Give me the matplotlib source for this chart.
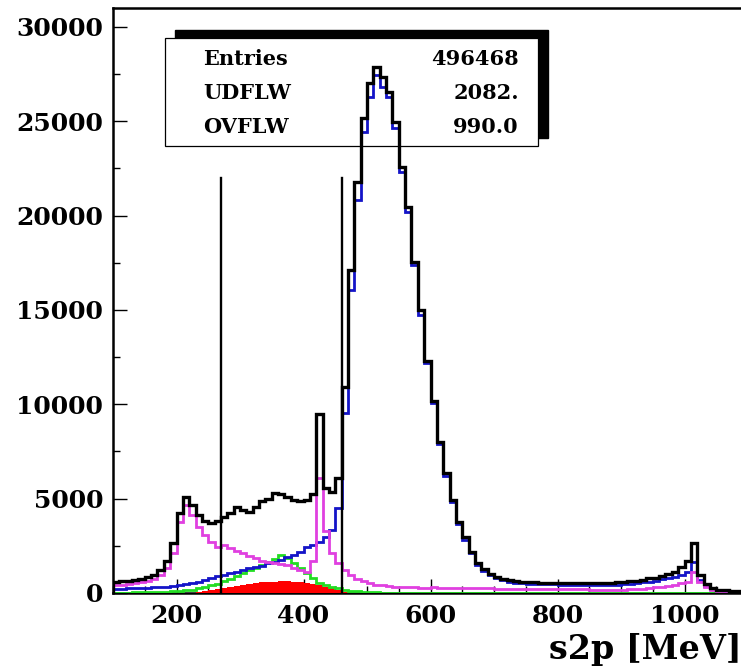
import numpy as np
import matplotlib
matplotlib.use("Agg")
import matplotlib.pyplot as plt
import matplotlib.ticker as mticker
from matplotlib.patches import Rectangle

# --- Data: s2p spectrum, 10 MeV bins from 100 to 1100 MeV ---
bin_edges = np.arange(100, 1101, 10)

total = [
    600, 620, 650, 700, 760, 850, 980, 1200, 1700, 2650,
    4250, 5100, 4650, 4130, 3830, 3730, 3830, 4050, 4220, 4550,
    4400, 4300, 4550, 4850, 5000, 5300, 5250, 5100, 4950, 4900,
    4950, 5250, 9500, 5550, 5370, 6080, 10900, 17100, 21800, 25150,
    27000, 27900, 27360, 26570, 24980, 22590, 20470, 17560, 15000, 12300,
    10170, 8020, 6340, 4930, 3780, 2950, 2190, 1570, 1250, 1000,
    850, 750, 680, 630, 590, 570, 560, 550, 540, 530,
    520, 515, 510, 510, 515, 520, 530, 540, 550, 570,
    590, 620, 650, 700, 770, 820, 920, 1000, 1130, 1400,
    1700, 2630, 950, 480, 260, 180, 150, 130, 110, 100,
]

blue = [
    220, 230, 240, 250, 260, 280, 300, 320, 340, 380,
    430, 480, 530, 600, 690, 780, 900, 980, 1040, 1100,
    1200, 1300, 1380, 1450, 1570, 1650, 1750, 1900, 2010, 2190,
    2450, 2540, 2720, 2980, 3340, 4490, 9520, 16060, 20830, 24450,
    26300, 27450, 26830, 26300, 24630, 22330, 20210, 17380, 14730, 12170,
    10050, 7900, 6220, 4840, 3660, 2810, 2100, 1500, 1150, 930,
    780, 680, 600, 550, 510, 490, 470, 470, 460, 460,
    450, 440, 440, 440, 440, 440, 440, 440, 445, 450,
    470, 490, 520, 560, 600, 650, 720, 780, 860, 950,
    1100, 1630, 700, 350, 200, 140, 110, 100, 90, 80,
]

magenta = [
    420, 440, 470, 510, 560, 640, 760, 950, 1350, 2100,
    3780, 4660, 4130, 3510, 3070, 2720, 2450, 2540, 2370, 2250,
    2100, 1980, 1840, 1720, 1640, 1580, 1550, 1480, 1350, 1200,
    1130, 1700, 6080, 3300, 2100, 1600, 1220, 950, 750, 620,
    520, 450, 400, 370, 340, 320, 300, 300, 290, 280,
    310, 270, 260, 260, 250, 250, 250, 240, 240, 240,
    230, 230, 220, 220, 220, 210, 210, 210, 200, 200,
    200, 200, 190, 190, 190, 180, 180, 180, 180, 180,
    180, 190, 200, 230, 260, 300, 330, 380, 450, 520,
    600, 1130, 600, 300, 180, 120, 100, 80, 70, 60,
]

green = [
    20, 20, 25, 30, 35, 40, 50, 60, 75, 90,
    110, 140, 180, 240, 310, 400, 500, 620, 760, 900,
    1050, 1200, 1350, 1500, 1650, 1800, 2000, 1840, 1570, 1300,
    1040, 780, 550, 420, 330, 250, 180, 130, 90, 60,
    40, 30, 20, 20, 20, 20, 20, 20, 20, 20,
    20, 20, 20, 20, 20, 20, 20, 20, 20, 20,
    20, 20, 20, 20, 20, 20, 20, 20, 20, 20,
    20, 20, 20, 20, 20, 20, 20, 20, 20, 20,
    20, 20, 20, 20, 20, 20, 20, 20, 20, 20,
    20, 20, 20, 20, 20, 20, 20, 20, 20, 20,
]

red = [
    0, 0, 0, 0, 0, 0, 0, 0, 0, 0,
    0, 0, 20, 50, 90, 140, 200, 260, 330, 390,
    440, 490, 530, 560, 580, 600, 610, 610, 600, 580,
    550, 500, 430, 340, 240, 150, 70, 20, 0, 0,
] + [0] * 60

cut_positions = [270, 460]
cut_height = 22000

stat_labels = ['Entries', 'UDFLW', 'OVFLW']
stat_values = ['496468', '2082.', '990.0']

# --- Figure ---
W, H = 741, 672
fig = plt.figure(figsize=(W / 100, H / 100), dpi=100)
ax = fig.add_axes([113 / W, 79 / H, 635 / W, 585 / H])

def px(x, y):
    # figure pixel (from top-left) -> figure fraction
    return x / W, 1 - y / H

# stats box (shadow + white box), under the histograms
ax.add_patch(Rectangle(px(175, 138), 373 / W, 108 / H, transform=fig.transFigure,
                       facecolor='black', edgecolor='black', clip_on=False, zorder=1))
ax.add_patch(Rectangle(px(165, 146), 373 / W, 108 / H, transform=fig.transFigure,
                       facecolor='white', edgecolor='black', lw=0.9, clip_on=False, zorder=1.5))
for i, (lab, val) in enumerate(zip(stat_labels, stat_values)):
    yrow = [59, 93, 127][i]
    ax.text(*px(203, yrow), lab, transform=fig.transFigure, ha='left', va='center',
            fontsize=15, fontweight='bold', family='DejaVu Serif', zorder=2)
    ax.text(*px(519, yrow), val, transform=fig.transFigure, ha='right', va='center',
            fontsize=15, fontweight='bold', family='DejaVu Serif', zorder=2)

# histograms
ax.stairs(red, bin_edges, fill=True, color='#ff0000', zorder=3)
ax.stairs(green, bin_edges, color='#22dd22', lw=2.0, zorder=4)
ax.stairs(blue, bin_edges, color='#1414c8', lw=2.0, zorder=5)
ax.stairs(magenta, bin_edges, color='#e040e0', lw=2.0, zorder=6)
ax.stairs(total, bin_edges, color='black', lw=2.4, zorder=7)

for xc in cut_positions:
    ax.plot([xc, xc], [0, cut_height], color='black', lw=1.7, zorder=8)

ax.set_xlim(100, 1100)
ax.set_ylim(0, 31000)

ax.xaxis.set_major_locator(mticker.MultipleLocator(200))
ax.xaxis.set_minor_locator(mticker.MultipleLocator(50))
ax.yaxis.set_major_locator(mticker.MultipleLocator(5000))
ax.yaxis.set_minor_locator(mticker.MultipleLocator(2500))
ax.set_xticks([200, 400, 600, 800, 1000])
ax.tick_params(axis='both', which='major', direction='in', length=10, width=1,
               labelsize=18, top=False, right=False)
ax.tick_params(axis='both', which='minor', direction='in', length=5, width=1,
               top=False, right=False)
ax.tick_params(axis='x', pad=8)
ax.tick_params(axis='y', pad=7)
for lab in ax.get_xticklabels() + ax.get_yticklabels():
    lab.set_fontweight('bold')
    lab.set_family('DejaVu Serif')

for s in ax.spines.values():
    s.set_linewidth(1.8)

fig.text(*px(549, 659), 's2p [MeV]', ha='left', va='baseline',
         fontsize=24, fontweight='bold', family='DejaVu Serif')

fig.savefig('out.png', dpi=100)
